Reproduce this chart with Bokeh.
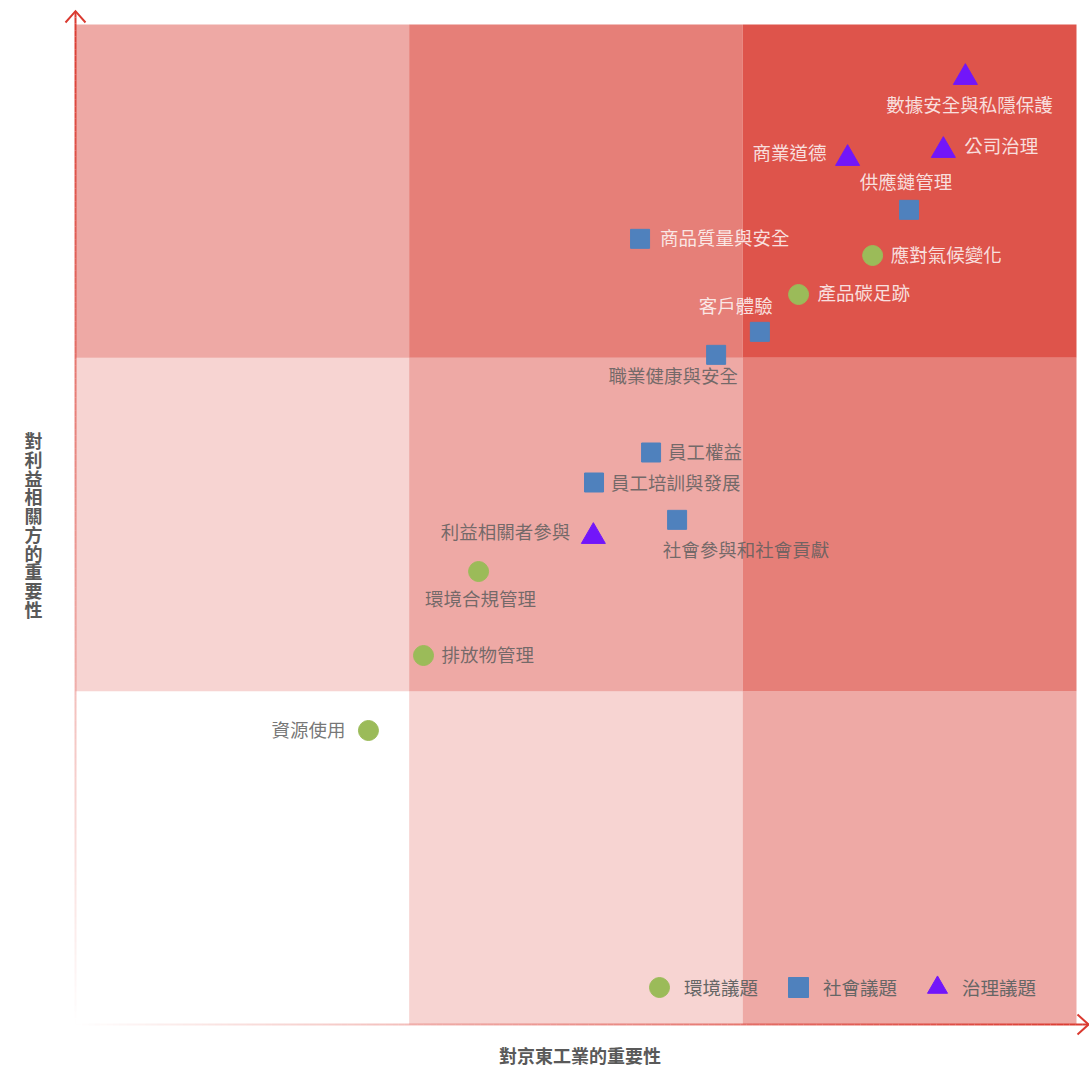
from bokeh.plotting import figure
from bokeh.models import Range1d, ColumnDataSource, Legend, LegendItem
from bokeh.core.properties import value
from bokeh.embed import file_html
from bokeh.resources import INLINE

# ---------------- data ----------------
topics = ["數據安全與私隱保護", "商業道德", "公司治理", "利益相關者參與",
          "供應鏈管理", "商品質量與安全", "客戶體驗", "職業健康與安全",
          "員工權益", "員工培訓與發展", "社會參與和社會貢獻",
          "應對氣候變化", "產品碳足跡", "環境合規管理", "排放物管理", "資源使用"]
category = ["治理議題"] * 4 + ["社會議題"] * 7 + ["環境議題"] * 5
importance_company = [2.667, 2.314, 2.601, 1.552,
                      2.498, 1.692, 2.051, 1.920, 1.725, 1.554, 1.803,
                      2.389, 2.167, 1.208, 1.043, 0.878]
importance_stakeholder = [2.841, 2.598, 2.622, 1.464,
                          2.444, 2.357, 2.078, 2.009, 1.716, 1.626, 1.514,
                          2.307, 2.190, 1.359, 1.107, 0.882]
legend_labels = ["環境議題", "社會議題", "治理議題"]
x_title = "對京東工業的重要性"
y_title = "對利益相關方的重要性"

# grid of importance levels
cell_edges = [0, 1, 2, 3]

# ---------------- layout / style ----------------
W, H = 1089, 1065
PX = 1001 / 3.0   # px per unit (x)
PY = 1000 / 3.0   # px per unit (y)
LEFT, TOP = 75, 24
FONT = "Noto Sans CJK TC"
RED = "#DA3A30"
BASE = "#DE544B"
marker_style = {
    "環境議題": dict(marker="circle", color="#9BBB59", size=20),
    "社會議題": dict(marker="square", color="#4F81BD", size=19),
    "治理議題": dict(marker="triangle", color="#7216FA", size=24),
}
# label placement: (align, dx px, dy px downward)
label_place = [("center", 4, 28), ("right", -21, -5), ("left", 21, -4), ("right", -23, -4),
               ("center", -3, -27), ("left", 20, 0), ("center", -24, -25), ("center", -43, 22),
               ("left", 17, 0), ("left", 17, 1), ("center", 69, 31),
               ("left", 18, 0), ("left", 19, -1), ("center", 2, 28), ("left", 18, 0), ("right", -23, 0)]
TEXT_SHIFT = -2

p = figure(width=W, height=H, output_backend="svg", toolbar_location=None,
           x_range=Range1d(-LEFT / PX, (W - LEFT) / PX),
           y_range=Range1d(3 - (H - TOP) / PY, 3 + TOP / PY),
           x_axis_location=None, y_axis_location=None, min_border=0)
p.xgrid.visible = False
p.ygrid.visible = False
p.outline_line_color = None
p.background_fill_color = "white"

# cells
l, r, b, t, a = [], [], [], [], []
for i in range(3):
    for j in range(3):
        l.append(cell_edges[i]); r.append(cell_edges[i + 1])
        b.append(cell_edges[j]); t.append(cell_edges[j + 1])
        a.append((i + j) / 4.0)
p.quad(left=l, right=r, bottom=b, top=t, fill_color=BASE, fill_alpha=a, line_color=None)

# gradient axis lines
N = 160
yx_top = (1024 - 10.7) / PY
xx_end = (1088 - 75) / PX
ys0 = [yx_top * k / N for k in range(N)]
ys1 = [yx_top * (k + 1) / N for k in range(N)]
al = [(k + 0.5) / N for k in range(N)]
p.segment(x0=[0] * N, y0=ys0, x1=[0] * N, y1=ys1, line_color=RED, line_alpha=al, line_width=2)
xs0 = [xx_end * k / N for k in range(N)]
xs1 = [xx_end * (k + 1) / N for k in range(N)]
p.segment(x0=xs0, y0=[0] * N, x1=xs1, y1=[0] * N, line_color=RED, line_alpha=al, line_width=2)
# arrow heads
p.line(x=[-10 / PX, 0, 10 / PX], y=[yx_top - 11.3 / PY, yx_top, yx_top - 11.3 / PY],
       line_color=RED, line_width=2, line_join="miter")
p.line(x=[xx_end - 11 / PX, xx_end, xx_end - 11 / PX], y=[10 / PY, 0, -10 / PY],
       line_color=RED, line_width=2, line_join="miter")

# points
renderers = {}
for cat in legend_labels:
    idx = [k for k, c in enumerate(category) if c == cat]
    st = marker_style[cat]
    src = ColumnDataSource(dict(x=[importance_company[k] for k in idx],
                                y=[importance_stakeholder[k] for k in idx]))
    renderers[cat] = p.scatter("x", "y", source=src, marker=st["marker"], size=st["size"],
                               fill_color=st["color"], line_color=st["color"])

# labels
lx, ly, lt, la, lxo, lyo, lc = [], [], [], [], [], [], []
for k, name in enumerate(topics):
    align, dx, dy = label_place[k]
    lx.append(importance_company[k]); ly.append(importance_stakeholder[k])
    lt.append(name); la.append(align); lxo.append(dx); lyo.append(dy + TEXT_SHIFT)
    in_top = importance_stakeholder[k] - dy / PY > 2
    lc.append("#FFFFFF" if in_top else "#5E5E5E")
lsrc = ColumnDataSource(dict(x=lx, y=ly, text=lt, align=la, xo=lxo, yo=lyo, color=lc,
                             alpha=[0.82 if c == "#FFFFFF" else 0.85 for c in lc]))
p.text(x="x", y="y", text="text", source=lsrc, text_align="align", text_baseline="middle",
       x_offset="xo", y_offset="yo", text_color="color", text_alpha="alpha",
       text_font=value(FONT), text_font_size="18.5px")

# axis titles
p.text(x=[1.5], y=[0], text=[x_title], x_offset=4, y_offset=30, text_align="center",
       text_baseline="middle", text_color="#595959", text_font=value(FONT),
       text_font_size="18px", text_font_style="bold")
p.text(x=[0], y=[1.5], text=["\n".join(y_title)], x_offset=-42, y_offset=0, text_align="center",
       text_baseline="middle", text_color="#595959", text_font=value(FONT),
       text_font_size="18px", text_font_style="bold", text_line_height=0.72)

legend = Legend(items=[LegendItem(label=c, renderers=[renderers[c]]) for c in legend_labels],
                orientation="horizontal", location=(634, 53), glyph_width=50, glyph_height=50,
                label_standoff=-3, spacing=15, padding=0, margin=0,
                background_fill_alpha=0, border_line_alpha=0,
                label_text_font=FONT, label_text_font_size="18.5px", label_text_color="#666666")
p.add_layout(legend)

open("out.html", "w").write(file_html(p, INLINE))
